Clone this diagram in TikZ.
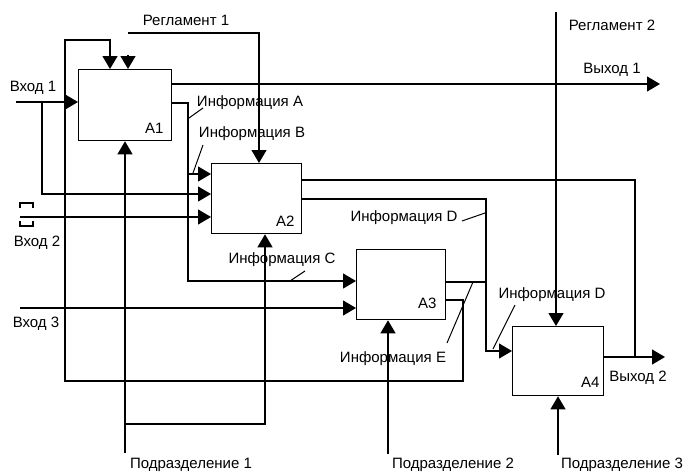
\documentclass[tikz,border=0pt]{standalone}
\usepackage{fontspec}
\setmainfont{Liberation Sans}
\usetikzlibrary{arrows.meta}
\begin{document}
\begin{tikzpicture}[x=1pt,y=-1pt,
  line width=1.2pt,
  box/.style={draw, line width=1.3pt, inner sep=0pt, anchor=north west},
  arr/.style={-{Triangle[length=13pt,width=15pt]}},
  lbl/.style={font=\fontsize{15}{17}\selectfont, inner sep=0pt},
  lead/.style={line width=1pt},
  brk/.style={line width=1.7pt}]
\useasboundingbox (0,0) rectangle (683,474);

% boxes
\node[box, minimum width=93pt, minimum height=71pt] (A1) at (78,69) {};
\node[box, minimum width=90pt, minimum height=70pt] (A2) at (211,163) {};
\node[box, minimum width=89pt, minimum height=70pt] (A3) at (356,249) {};
\node[box, minimum width=91pt, minimum height=69pt] (A4) at (512,326) {};
\node[lbl] (tA1) at ([shift={(-18,-13)}]A1.south east) {A1};
\node[lbl] (tA2) at ([shift={(-17,-13)}]A2.south east) {A2};
\node[lbl] (tA3) at ([shift={(-19,-17)}]A3.south east) {A3};
\node[lbl] (tA4) at ([shift={(-14,-14)}]A4.south east) {A4};

% free ends
\coordinate (in1) at (16,102);
\coordinate (in2) at (20,217);
\coordinate (in3) at (20,308);
\coordinate (reg1) at (128,33);
\coordinate (reg2) at (556,12);
\coordinate (out1) at (660,84);
\coordinate (out2) at (665,357);
\coordinate (p1) at (125,453);
\coordinate (p2) at (388,454);
\coordinate (p3) at (558,455);
\coordinate (stub) at (128,55);

% Вход 1 and its branch to A2
\draw[arr] (in1) -- (A1.west |- in1);
\draw[arr] (42,102) -- (42,194) -- (A2.west |- 0,194);
% Вход 2, Вход 3
\draw[arr] (in2) -- (A2.west |- in2);
\draw[arr] (in3) -- (A3.west |- in3);
% tunnel brackets
\draw[brk] (20,208) -- (20,203) -- (33,203) -- (33,208);
\draw[brk] (20,221) -- (20,226) -- (33,226) -- (33,221);

% Регламент 1
\draw[arr] (reg1) -- (259,33) -- (A2.north -| 259,0);
\draw[arr] (stub) -- (A1.north -| stub);
% Регламент 2
\draw[arr] (reg2) -- (A4.north -| reg2);

% Выход 1
\draw[arr] (A1.east |- 0,84) -- (out1);
% Информация A / B / C
\draw[arr] (A1.east |- 0,103) -- (188,103) -- (188,281) -- (A3.west |- 0,281);
\draw[arr] (188,174) -- (A2.west |- 0,174);

% Информация E feedback from A3 to A1
\draw[arr] (A3.east |- 0,300) -- (463,300) -- (463,381) -- (65,381) -- (65,40) -- (110,40) -- (A1.north -| 110,0);

% A2 outputs
\draw (A2.east |- 0,180) -- (635,180) -- (635,357);
\draw[arr] (A2.east |- 0,199) -- (486,199) -- (486,351) -- (A4.west |- 0,351);
\draw (A3.east |- 0,282) -- (486,282);
% Выход 2
\draw[arr] (A4.east |- out2) -- (out2);

% mechanisms
\draw[arr] (p1) -- (A1.south -| p1);
\draw[arr] (125,424) -- (265,424) -- (A2.south -| 265,0);
\draw[arr] (p2) -- (A3.south -| p2);
\draw[arr] (p3) -- (A4.south -| p3);

% leader lines
\draw[lead] (189,118) -- (203,108);
\draw[lead] (193,173) -- (203,145);
\draw[lead] (290,281) -- (305,271);
\draw[lead] (462,221) -- (485,213);
\draw[lead] (493,349) -- (515,305);
\draw[lead] (473,282) -- (447,343);

% labels
\node[lbl] (lreg1) at (186,20) {Регламент 1};
\node[lbl] (lreg2) at (612,25) {Регламент 2};
\node[lbl] (lout1) at (612,70) {Выход 1};
\node[lbl] (lin1) at (33,88) {Вход 1};
\node[lbl] (linfA) at (250,103) {Информация A};
\node[lbl] (linfB) at (252,134) {Информация B};
\node[lbl] (lin2) at (37,243) {Вход 2};
\node[lbl] (linfC) at (282,260) {Информация C};
\node[lbl] (linfD1) at (404,218) {Информация D};
\node[lbl] (linfD2) at (552,295) {Информация D};
\node[lbl] (lin3) at (36,324) {Вход 3};
\node[lbl] (linfE) at (393,359) {Информация E};
\node[lbl] (lout2) at (638,378) {Выход 2};
\node[lbl] (lp1) at (191,465) {Подразделение 1};
\node[lbl] (lp2) at (453,465) {Подразделение 2};
\node[lbl] (lp3) at (622,465) {Подразделение 3};
\end{tikzpicture}
\end{document}
